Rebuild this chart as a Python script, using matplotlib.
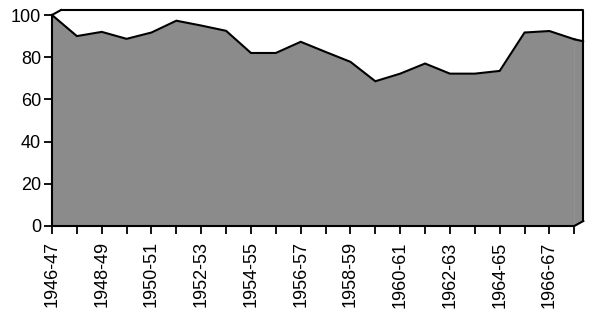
import numpy as np
import matplotlib.pyplot as plt
from matplotlib.transforms import offset_copy

plt.rcParams['font.family'] = ['Liberation Sans', 'DejaVu Sans']

# seasons, one per tick; only every second one gets a label
seasons = ['1946-47', '1947-48', '1948-49', '1949-50', '1950-51', '1951-52',
           '1952-53', '1953-54', '1954-55', '1955-56', '1956-57', '1957-58',
           '1958-59', '1959-60', '1960-61', '1961-62', '1962-63', '1963-64',
           '1964-65', '1965-66', '1966-67', '1967-68']
values = [100, 90, 92, 88.7, 91.7, 97.3, 95, 92.5, 82, 82, 87.3, 82.5,
          77.8, 68.6, 72.2, 77, 72.2, 72.2, 73.5, 91.7, 92.4, 88.5]
y_ticks = [0, 20, 40, 60, 80, 100]

fill_col = '#8b8b8b'
dx, dy = 9, 5  # depth of the fake 3d back wall, in pixels

fig = plt.figure(figsize=(6, 3.13), dpi=100)
ax = fig.add_axes([52/600, 87/313, 522.3/600, 211/313])

x = np.arange(len(seasons))
ax.set_xlim(x[0], x[-1])
ax.set_ylim(0, 100)

ax.fill_between(x, values, 0, color=fill_col, lw=0, clip_on=False)
ax.plot(x, values, color='black', lw=1.5, clip_on=False, solid_joinstyle='miter')

# side face between the last value and the back wall (top edge keeps falling)
inv = ax.transData.inverted()
p0 = ax.transData.transform([[x[-1], 0], [x[-1], values[-1]]])
p1 = inv.transform(p0 + [[dx, dy], [dx, -2]])
ax.fill([x[-1], x[-1], p1[1, 0], p1[0, 0]], [0, values[-1], p1[1, 1], p1[0, 1]],
        color=fill_col, lw=0, clip_on=False)
ax.plot([x[-1], p1[1, 0]], [values[-1], p1[1, 1]], color='black', lw=1.5,
        clip_on=False, solid_capstyle='round')

# back wall outline
back = offset_copy(ax.transData, fig=fig, x=dx, y=dy, units='dots')
ax.plot([x[0], x[-1], x[-1]], [100, 100, 0], color='black', lw=1.5,
        transform=back, clip_on=False)
for xx, yy in [(x[0], 100), (x[-1], 0)]:
    q = inv.transform(ax.transData.transform([[xx, yy]]) + [dx, dy])[0]
    ax.plot([xx, q[0]], [yy, q[1]], color='black', lw=1.5, clip_on=False)

for s in ['top', 'right']:
    ax.spines[s].set_visible(False)
for s in ['left', 'bottom']:
    ax.spines[s].set_linewidth(1.5)

ax.set_yticks(y_ticks)
ax.set_xticks(x)
ax.set_xticklabels([s if i % 2 == 0 else '' for i, s in enumerate(seasons)],
                   rotation=90, fontsize=13)
ax.tick_params(axis='y', labelsize=13, length=6, width=1.3, pad=2)
ax.tick_params(axis='x', length=6, width=1.3, pad=5)

fig.savefig('out.png', dpi=100)
